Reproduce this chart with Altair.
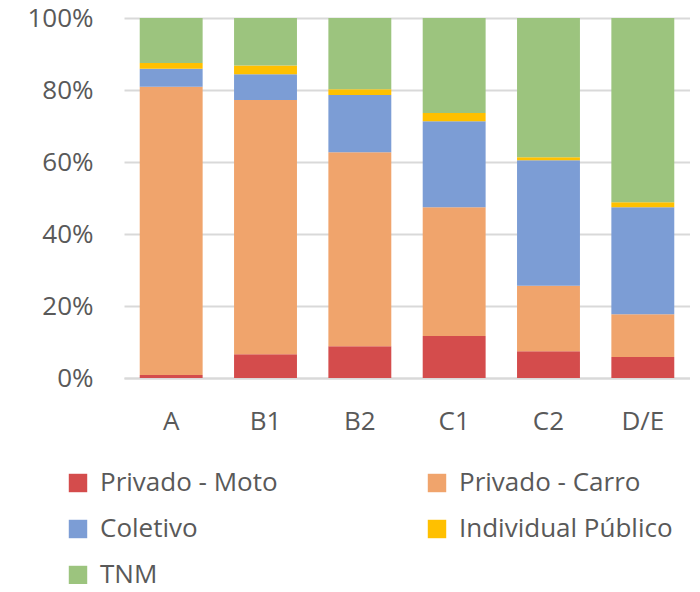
import altair as alt
import pandas as pd

categories = ["A", "B1", "B2", "C1", "C2", "D/E"]
series = ["Privado - Moto", "Privado - Carro", "Coletivo", "Individual Público", "TNM"]
moto = [0.8, 6.6, 8.8, 11.7, 7.4, 5.8]
carro = [80.1, 70.6, 53.9, 35.7, 18.2, 11.9]
coletivo = [5.0, 7.2, 15.9, 23.9, 34.9, 29.7]
individual = [1.6, 2.4, 1.6, 2.3, 0.8, 1.4]
tnm = [12.5, 13.2, 19.8, 26.4, 38.7, 51.2]
colors = ["#d44c4c", "#f0a46c", "#7c9dd5", "#ffc000", "#9cc47e"]

rows = []
for si, (name, vals) in enumerate(zip(series, [moto, carro, coletivo, individual, tnm])):
    for c, v in zip(categories, vals):
        rows.append({"cat": c, "serie": name, "valor": v, "ordem": si})
df = pd.DataFrame(rows)

# legend fills column-major: reorder so it reads row by row like the reference
legend_order = [series[0], series[2], series[4], series[1], series[3]]
legend_colors = [colors[series.index(s)] for s in legend_order]

FONT = "Open Sans"
GRAY = "#595959"

chart = alt.Chart(df).mark_bar().encode(
    x=alt.X("cat:N", sort=categories, title=None,
            scale=alt.Scale(paddingInner=0.333, paddingOuter=0.1667),
            axis=alt.Axis(labelAngle=0, labelFont=FONT, labelFontSize=26, labelColor=GRAY,
                          labelPadding=30, ticks=False, domainColor="#d9d9d9", domainWidth=2,
                          grid=False)),
    y=alt.Y("valor:Q", stack="normalize", title=None,
            scale=alt.Scale(domain=[0, 1]),
            axis=alt.Axis(format=".0%", values=[0, 0.2, 0.4, 0.6, 0.8, 1.0],
                          labelFont=FONT, labelFontSize=26, labelColor=GRAY,
                          labelPadding=31, ticks=False, tickSize=0, domain=False,
                          gridColor="#d9d9d9", gridWidth=2)),
    color=alt.Color("serie:N", sort=legend_order,
                    scale=alt.Scale(domain=legend_order, range=legend_colors),
                    legend=alt.Legend(title=None, orient="none", legendX=-59, legendY=452,
                                      columns=2, columnPadding=146, rowPadding=20,
                                      symbolType="square", symbolSize=340, symbolStrokeWidth=0,
                                      labelFont=FONT, labelFontSize=26, labelColor=GRAY,
                                      labelOffset=9, labelLimit=400, padding=0)),
    order=alt.Order("ordem:Q", sort="ascending"),
).properties(
    width=566, height=360,
    autosize=alt.AutoSizeParams(type="none"),
    padding={"left": 116, "top": 10, "right": 0, "bottom": 206},
).configure_view(stroke=None)

chart.save("out.html", embed_options={"renderer": "svg", "actions": False})
